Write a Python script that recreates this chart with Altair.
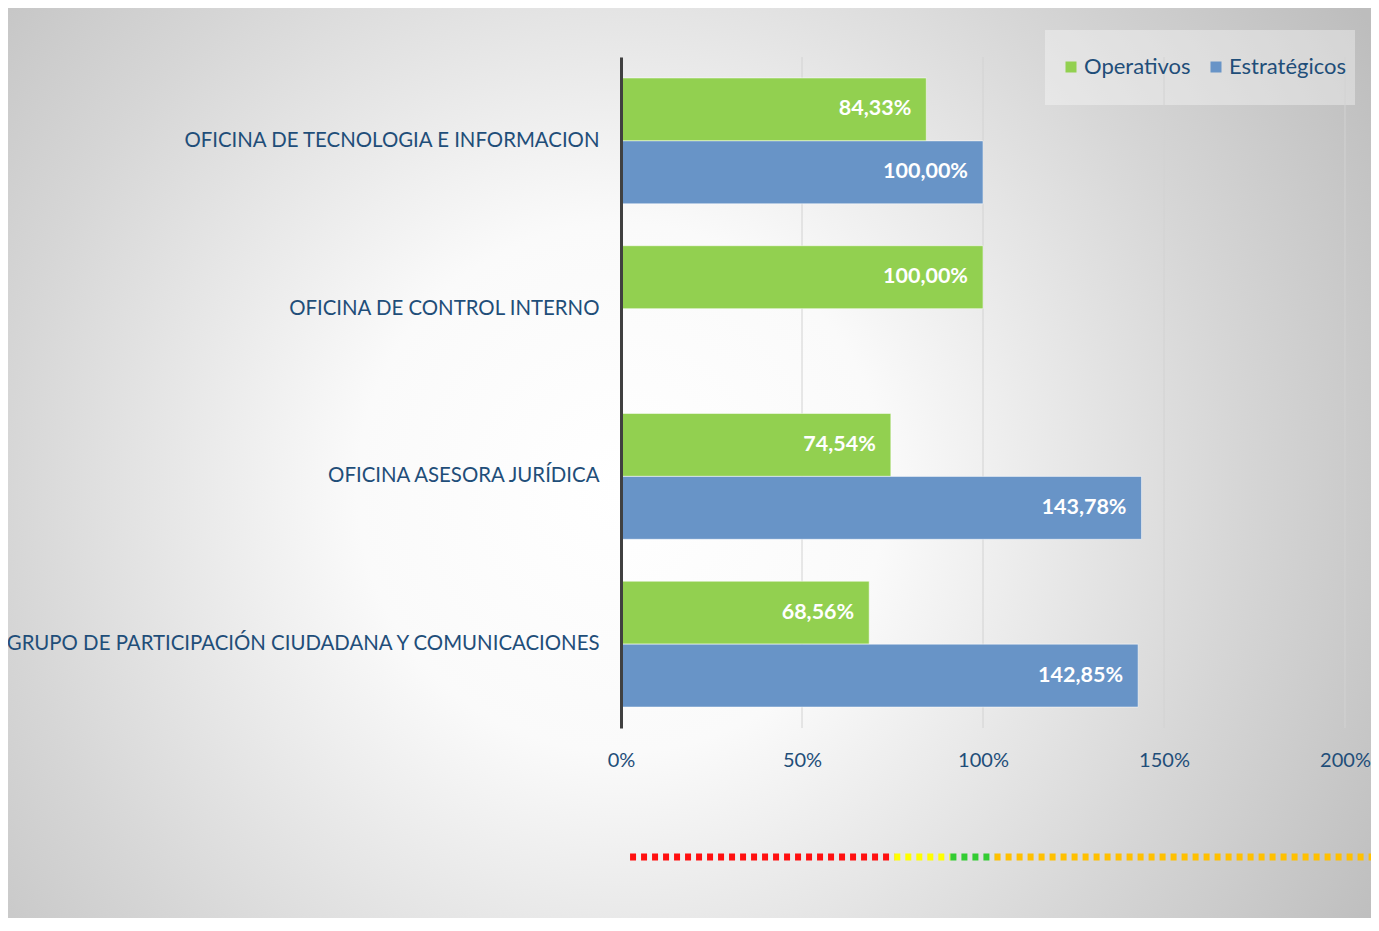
import altair as alt
import pandas as pd

categories = [
    "OFICINA DE TECNOLOGIA E INFORMACION",
    "OFICINA DE CONTROL INTERNO",
    "OFICINA ASESORA JURÍDICA",
    "GRUPO DE PARTICIPACIÓN CIUDADANA Y COMUNICACIONES",
]
series = ["Operativos", "Estratégicos"]
operativos = [84.33, 100.00, 74.54, 68.56]
estrategicos = [100.00, None, 143.78, 142.85]
series_colors = ["#92D050", "#6894C7"]
x_ticks = [0, 50, 100, 150, 200]

# decorative threshold strip under the chart (in % units)
band_start = [2.5, 75.5, 91.0, 103.2]
band_end = [75.5, 91.0, 103.2, 208.0]
band_colors = ["#FF1010", "#FFFF00", "#33CC33", "#FFC000"]

rows = []
for cat, o, e in zip(categories, operativos, estrategicos):
    for s, v in zip(series, [o, e]):
        if v is None:
            continue
        rows.append({"categoria": cat, "serie": s, "valor": v,
                     "etiqueta": f"{v:.2f}".replace(".", ",") + "%"})
df = pd.DataFrame(rows)

bands = pd.DataFrame({"ini": band_start, "fin": band_end, "col": band_colors})
grid = pd.DataFrame({"v": x_ticks})

LABEL_BLUE = "#1F4E79"
FONT = "Lato"
W, H = 724, 671

xscale = alt.Scale(domain=[0, 200], nice=False, zero=True)
yenc = alt.Y("categoria:N", sort=categories,
             scale=alt.Scale(domain=categories, paddingInner=0.25, paddingOuter=0.125),
             axis=alt.Axis(title=None, domainColor="#404040", domainWidth=3, ticks=False,
                           grid=False, labelFontSize=20.4, labelColor=LABEL_BLUE,
                           labelFont=FONT, labelPadding=22, labelLimit=800, zindex=1))
yoff = alt.YOffset("serie:N", sort=series, scale=alt.Scale(domain=series, paddingInner=0, paddingOuter=0))

bg = alt.Chart(pd.DataFrame({"a": [0]})).mark_rect(
    color=alt.RadialGradient(
        gradient="radial", x1=0.448, y1=0.512, r1=0, x2=0.448, y2=0.512, r2=0.64,
        stops=[alt.GradientStop(offset=0, color="#ffffff"),
               alt.GradientStop(offset=0.3, color="#fafafa"),
               alt.GradientStop(offset=0.7, color="#d6d6d6"),
               alt.GradientStop(offset=1, color="#bdbdbd")]),
    stroke="#d4d4d4", strokeWidth=1,
).encode(x=alt.value(-616), x2=alt.value(760), y=alt.value(-50), y2=alt.value(880))

legend_box = alt.Chart(pd.DataFrame({"a": [0]})).mark_rect(
    color="#ffffff", opacity=0.35,
).encode(x=alt.value(424), x2=alt.value(734), y=alt.value(-27), y2=alt.value(48))

gridlines = alt.Chart(grid).mark_rule(color="#d2d2d2", strokeWidth=1).encode(
    x=alt.X("v:Q", scale=xscale),
    y=alt.value(0), y2=alt.value(H),
)

bars = alt.Chart(df).mark_bar(stroke="#ffffff", strokeOpacity=0.5, strokeWidth=1).encode(
    x=alt.X("valor:Q", scale=xscale,
            axis=alt.Axis(title=None, values=x_ticks, labelExpr="datum.value + '%'",
                          grid=False, domain=False, ticks=False, labelFontSize=20,
                          labelColor=LABEL_BLUE, labelFont=FONT, labelPadding=22,
                          labelFlush=False, zindex=1)),
    y=yenc,
    yOffset=yoff,
    color=alt.Color("serie:N", sort=series,
                    scale=alt.Scale(domain=series, range=series_colors),
                    legend=alt.Legend(title=None, orient="none", legendX=439, legendY=-1,
                                      direction="horizontal", padding=0,
                                      symbolType="square", symbolSize=121,
                                      symbolStrokeWidth=0,
                                      labelFontSize=22, labelFont=FONT,
                                      labelColor=LABEL_BLUE, labelOffset=2,
                                      columnPadding=14)),
)

labels = alt.Chart(df).mark_text(
    align="right", baseline="middle", dx=-15, color="white",
    fontSize=21.5, fontWeight="bold", font=FONT,
).encode(
    x=alt.X("valor:Q", scale=xscale),
    y=alt.Y("categoria:N", sort=categories),
    yOffset=alt.YOffset("serie:N", sort=series),
    text="etiqueta:N",
)

strip = alt.Chart(bands).mark_rule(strokeWidth=7, strokeDash=[6, 5], strokeCap="butt").encode(
    x=alt.X("ini:Q", scale=xscale),
    x2="fin:Q",
    y=alt.value(800),
    stroke=alt.Stroke("col:N", scale=None),
)

chart = alt.layer(bg, legend_box, gridlines, bars, labels, strip).properties(
    width=W, height=H,
    autosize=alt.AutoSizeParams(type="none"),
    padding={"left": 613, "top": 49, "right": 26, "bottom": 190},
    background="white",
).configure_view(stroke=None)

chart.save("out.html", embed_options={"renderer": "svg", "actions": False})
